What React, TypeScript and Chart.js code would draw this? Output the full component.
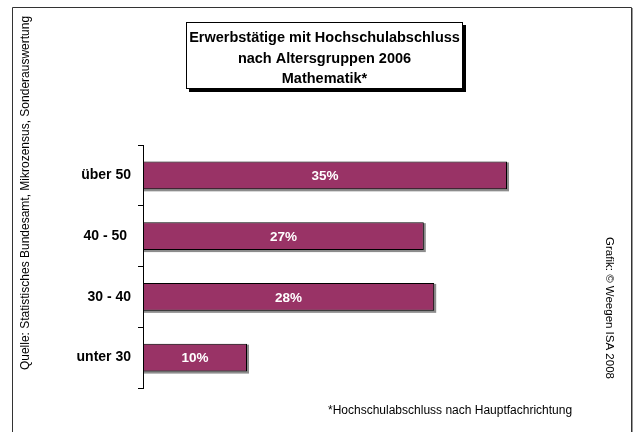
import { useEffect, useRef } from "react";
import { Chart, registerables } from "chart.js";

Chart.register(...registerables);

const categories = ["über 50", "40 - 50 ", "30 - 40", "unter 30"];
const values = [35, 27, 28, 10];
const valueLabels = ["35%", "27%", "28%", "10%"];
const titleLines = ["Erwerbstätige mit Hochschulabschluss", "nach Altersgruppen 2006", "Mathematik*"];
const sourceText = "Quelle: Statistisches Bundesamt, Mikrozensus, Sonderauswertung";
const creditText = "Grafik: © Weegen ISA 2008";
const footnoteText = "*Hochschulabschluss nach Hauptfachrichtung";

const FONT = '"Liberation Sans", Arial, sans-serif';
const BAR_COLOR = "#993366";

export default function App() {
  const ref = useRef<HTMLCanvasElement>(null);

  useEffect(() => {
    const canvas = ref.current!;

    const decor = {
      id: "decor",
      beforeDraw(chart: any) {
        const ctx = chart.ctx as CanvasRenderingContext2D;
        ctx.save();
        ctx.fillStyle = "#ffffff";
        ctx.fillRect(0, 0, chart.width, chart.height);
        // outer frame
        ctx.strokeStyle = "#9a9a9a";
        ctx.lineWidth = 1;
        ctx.beginPath();
        ctx.moveTo(632.5, 8);
        ctx.lineTo(632.5, 432);
        ctx.stroke();
        ctx.strokeStyle = "#333333";
        ctx.beginPath();
        ctx.moveTo(12.5, 432);
        ctx.lineTo(12.5, 7.5);
        ctx.lineTo(631.5, 7.5);
        ctx.lineTo(631.5, 432);
        ctx.stroke();

        // title box with shadow
        const bx = 186, by = 22, bw = 277, bh = 67;
        ctx.fillStyle = "#000000";
        ctx.fillRect(bx + 3, by + 3, bw, bh);
        ctx.fillStyle = "#ffffff";
        ctx.fillRect(bx, by, bw, bh);
        ctx.strokeStyle = "#000000";
        ctx.strokeRect(bx + 0.5, by + 0.5, bw - 1, bh - 1);
        ctx.fillStyle = "#000000";
        ctx.font = `bold 14.5px ${FONT}`;
        ctx.textAlign = "center";
        ctx.textBaseline = "alphabetic";
        const cx = bx + bw / 2;
        const baselines = [42, 62.5, 83];
        titleLines.forEach((t, i) => ctx.fillText(t, cx, baselines[i]));

        // left rotated source
        ctx.font = `12px ${FONT}`;
        ctx.save();
        ctx.translate(29, 193);
        ctx.rotate(-Math.PI / 2);
        ctx.textAlign = "center";
        ctx.fillText(sourceText, 0, 0);
        ctx.restore();

        // right rotated credit
        ctx.font = `11.5px ${FONT}`;
        ctx.save();
        ctx.translate(606, 308);
        ctx.rotate(Math.PI / 2);
        ctx.textAlign = "center";
        ctx.fillText(creditText, 0, 0);
        ctx.restore();

        // footnote
        ctx.font = `12px ${FONT}`;
        ctx.textAlign = "left";
        ctx.fillText(footnoteText, 328, 414);
        ctx.restore();
      },
      beforeDatasetsDraw(chart: any) {
        const ctx = chart.ctx as CanvasRenderingContext2D;
        const meta = chart.getDatasetMeta(0);
        ctx.save();
        ctx.fillStyle = "#8c8c8c";
        meta.data.forEach((el: any) => {
          const { x, y, base, height } = el.getProps(["x", "y", "base", "height"], true);
          const l = Math.min(x, base), r = Math.max(x, base);
          ctx.fillRect(l + 1, y - height / 2 + 1, r - l + 1, height + 1);
        });
        ctx.restore();
      },
      afterDatasetsDraw(chart: any) {
        const ctx = chart.ctx as CanvasRenderingContext2D;
        const meta = chart.getDatasetMeta(0);
        ctx.save();
        ctx.fillStyle = "#ffffff";
        ctx.font = `bold 13.5px ${FONT}`;
        ctx.textAlign = "center";
        ctx.textBaseline = "middle";
        meta.data.forEach((el: any, i: number) => {
          const { x, y, base } = el.getProps(["x", "y", "base"], true);
          ctx.fillText(valueLabels[i], (x + base) / 2, y + 1);
        });
        ctx.restore();
      },
    };

    const chart = new Chart(canvas, {
      type: "bar",
      data: {
        labels: categories,
        datasets: [
          {
            data: values,
            backgroundColor: BAR_COLOR,
            borderColor: "#000000",
            borderWidth: 1,
            borderSkipped: false,
            barPercentage: 0.46,
            categoryPercentage: 1,
          },
        ],
      },
      options: {
        indexAxis: "y",
        responsive: false,
        animation: false,
        devicePixelRatio: 1,
        layout: { padding: { left: 0, top: 145, right: 75, bottom: 44 } },
        plugins: { legend: { display: false }, tooltip: { enabled: false }, title: { display: false } },
        scales: {
          x: { display: false, min: 0, max: 40 },
          y: {
            afterFit(scale: any) {
              scale.width = 143;
            },
            grid: {
              drawOnChartArea: false,
              drawTicks: true,
              tickLength: 5,
              color: "#000000",
              offset: true,
            },
            border: { display: true, color: "#000000", width: 1 },
            ticks: {
              color: "#000000",
              padding: 7,
              font: { family: FONT, size: 14, weight: "bold" },
            },
          },
        },
      },
      plugins: [decor],
    } as any);

    return () => chart.destroy();
  }, []);

  return (
    <div style={{ position: "absolute", left: 0, top: 0, width: 634, height: 432 }}>
      <canvas ref={ref} width={634} height={432} style={{ display: "block" }} />
    </div>
  );
}
